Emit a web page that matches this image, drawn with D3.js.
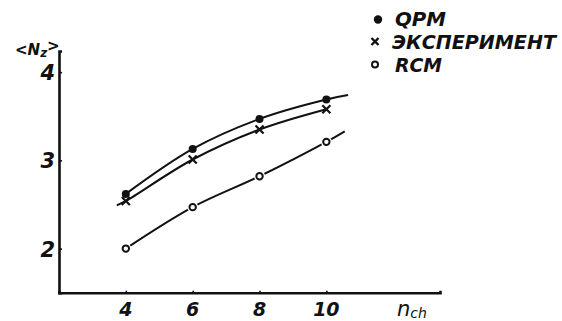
<!DOCTYPE html>
<html>
<head>
<meta charset="utf-8">
<script src="https://cdn.jsdelivr.net/npm/d3@7"></script>
<style>
  html, body { margin: 0; padding: 0; background: #fff; }
  svg text { font-family: "DejaVu Sans", sans-serif; font-style: italic; fill: #111; }
</style>
</head>
<body>
<div id="chart"></div>
<script>
// data
const nch = [4, 6, 8, 10];
const qpm = [2.62, 3.13, 3.47, 3.69];
const experiment = [2.54, 3.01, 3.35, 3.58];
const rcm = [2.00, 2.47, 2.82, 3.21];

// where the drawn curves run beyond the points
const qpmTail = [10.65, 3.74];
const expHead = [3.73, 2.49];
const rcmTail = [10.55, 3.33];

const xTicks = [4, 6, 8, 10];
const yTicks = [2, 3, 4];
const legendLabels = ['QPM', 'ЭКСПЕРИМЕНТ', 'RCM'];

// chart size
const width = 562, height = 321;
const ink = '#111';

const svg = d3.select('#chart').append('svg')
    .attr('width', width)
    .attr('height', height);

// scales
const xScale = d3.scaleLinear().domain([2, 13.4]).range([59, 440]);
const yScale = d3.scaleLinear().domain([1.5, 4.24]).range([292.7, 51]);

// axes
const xAxisGroup = svg.append('g').attr('transform', `translate(0,${yScale(1.5)})`);
xAxisGroup.call(d3.axisTop(xScale).tickValues(xTicks).tickSize(2).tickFormat(''));
const yAxisGroup = svg.append('g').attr('transform', `translate(${xScale(2)},0)`);
yAxisGroup.call(d3.axisRight(yScale).tickValues(yTicks).tickSize(3).tickFormat(''));

[xAxisGroup, yAxisGroup].forEach(g => {
    g.select('.domain').attr('stroke', ink).attr('stroke-width', 2.6);
    g.selectAll('.tick line').attr('stroke', ink).attr('stroke-width', 1.6);
});

// tick labels
svg.append('g').selectAll('text')
    .data(xTicks)
    .join('text')
    .attr('x', d => xScale(d))
    .attr('y', 316)
    .attr('text-anchor', 'middle')
    .attr('font-size', 19)
    .attr('font-weight', 'bold')
    .text(d => d);

svg.append('g').selectAll('text')
    .data(yTicks)
    .join('text')
    .attr('x', 55)
    .attr('y', d => yScale(d) + 8)
    .attr('text-anchor', 'end')
    .attr('font-size', 21)
    .attr('font-weight', 'bold')
    .text(d => d);

// axis titles
const yTitle = svg.append('text')
    .attr('x', 15)
    .attr('y', 55)
    .attr('font-size', 15)
    .attr('font-weight', 'bold');
yTitle.append('tspan').text('<N');
yTitle.append('tspan').attr('font-size', 12).attr('dy', 2).text('z');
yTitle.append('tspan').attr('dy', -6).text('>');

const xTitle = svg.append('text')
    .attr('x', 397)
    .attr('y', 316)
    .attr('font-size', 21);
xTitle.append('tspan').text('n');
xTitle.append('tspan').attr('font-size', 14).attr('dy', 2).text('ch');

// curves
const line = d3.line()
    .curve(d3.curveCatmullRom)
    .x(d => xScale(d[0]))
    .y(d => yScale(d[1]));

const qpmPoints = nch.map((n, i) => [n, qpm[i]]).concat([qpmTail]);
const expPoints = [expHead].concat(nch.map((n, i) => [n, experiment[i]]));
const rcmPoints = nch.map((n, i) => [n, rcm[i]]).concat([rcmTail]);

svg.append('g').selectAll('path')
    .data([qpmPoints, expPoints, rcmPoints])
    .join('path')
    .attr('fill', 'none')
    .attr('stroke', ink)
    .attr('stroke-width', 2)
    .attr('d', line);

// markers
svg.append('g').selectAll('circle')
    .data(nch)
    .join('circle')
    .attr('cx', d => xScale(d))
    .attr('cy', (d, i) => yScale(qpm[i]))
    .attr('r', 4)
    .attr('fill', ink);

const cross = d3.symbol().type(d3.symbolX).size(44);
svg.append('g').selectAll('path')
    .data(nch)
    .join('path')
    .attr('transform', (d, i) => `translate(${xScale(d)},${yScale(experiment[i])})`)
    .attr('d', cross)
    .attr('fill', 'none')
    .attr('stroke', ink)
    .attr('stroke-width', 2.2);

// open circles with a white gap round them
const rcmMarks = svg.append('g');
rcmMarks.selectAll('.halo')
    .data(nch)
    .join('circle')
    .attr('class', 'halo')
    .attr('cx', d => xScale(d))
    .attr('cy', (d, i) => yScale(rcm[i]))
    .attr('r', 5.5)
    .attr('fill', '#fff');
rcmMarks.selectAll('.mark')
    .data(nch)
    .join('circle')
    .attr('class', 'mark')
    .attr('cx', d => xScale(d))
    .attr('cy', (d, i) => yScale(rcm[i]))
    .attr('r', 3.2)
    .attr('fill', '#fff')
    .attr('stroke', ink)
    .attr('stroke-width', 2);

// legend
const legendY = [25.5, 48.5, 72];
const legendLength = [51, 164, 47];
const legend = svg.append('g');
legend.selectAll('text')
    .data(legendLabels)
    .join('text')
    .attr('x', (d, i) => i === 1 ? 392 : 395)
    .attr('y', (d, i) => legendY[i])
    .attr('font-size', 20)
    .attr('font-weight', 'bold')
    .attr('textLength', (d, i) => legendLength[i])
    .attr('lengthAdjust', 'spacingAndGlyphs')
    .text(d => d);

legend.append('circle').attr('cx', 378).attr('cy', 19.5).attr('r', 4.2).attr('fill', ink);
legend.append('path')
    .attr('transform', 'translate(375,41.5)')
    .attr('d', d3.symbol().type(d3.symbolX).size(34))
    .attr('fill', 'none').attr('stroke', ink).attr('stroke-width', 2.4);
legend.append('circle').attr('cx', 375).attr('cy', 64.5).attr('r', 3)
    .attr('fill', '#fff').attr('stroke', ink).attr('stroke-width', 2);
</script>
</body>
</html>
